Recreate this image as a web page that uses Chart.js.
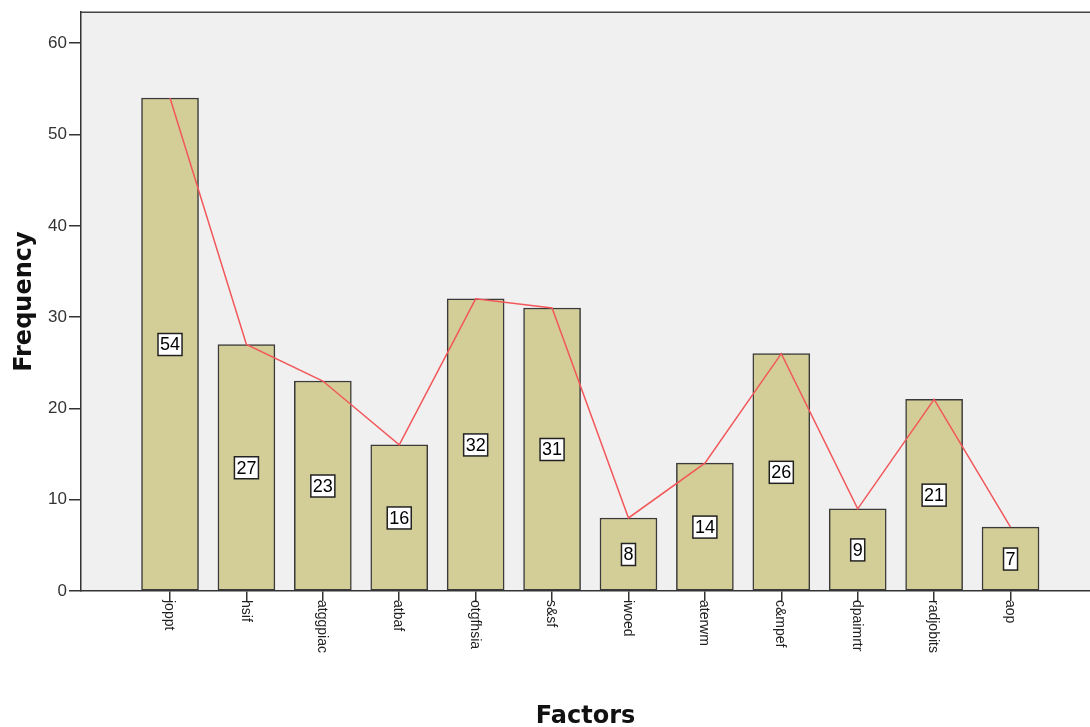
<!DOCTYPE html>
<html>
<head>
<meta charset="utf-8">
<style>
  html, body { margin: 0; padding: 0; background: #fff; }
  #wrap { width: 1090px; height: 727px; }
</style>
</head>
<body>
<div id="wrap"><canvas id="chart" width="1090" height="727"></canvas></div>
<script src="https://cdn.jsdelivr.net/npm/chart.js"></script>
<script>
const factors = ["joppt", "hsif", "atggpiac", "atbaf", "otgfhsia", "s&sf",
  "iwoed", "aterwm", "c&mpef", "dpaimrtr", "radjobits", "aop"];
const counts = [54, 27, 23, 16, 32, 31, 8, 14, 26, 9, 21, 7];
const yTicks = [0, 10, 20, 30, 40, 50, 60];

const FONT = "'Liberation Sans', Arial, sans-serif";
const TITLE_FONT = "'DejaVu Sans', sans-serif";

// grey plot panel + top border
const panelPlugin = {
  id: "panel",
  beforeDraw(chart) {
    const { ctx, chartArea: a } = chart;
    ctx.save();
    ctx.fillStyle = "#f0f0f0";
    ctx.fillRect(a.left, a.top, a.right - a.left, a.bottom - a.top);
    ctx.strokeStyle = "#444";
    ctx.lineWidth = 1.5;
    ctx.beginPath();
    ctx.moveTo(a.left, a.top);
    ctx.lineTo(a.right, a.top);
    ctx.stroke();
    ctx.restore();
  }
};

// value boxes in the middle of each bar
const valueLabels = {
  id: "valueLabels",
  afterDatasetsDraw(chart) {
    const { ctx, scales } = chart;
    ctx.save();
    ctx.font = "18px " + FONT;
    ctx.textAlign = "center";
    ctx.textBaseline = "middle";
    counts.forEach((v, i) => {
      const x = scales.x.getPixelForValue(i);
      const y = scales.y.getPixelForValue(v / 2);
      const txt = String(v);
      const w = ctx.measureText(txt).width + 4;
      const h = 22;
      ctx.fillStyle = "#fff";
      ctx.fillRect(x - w / 2, y - h / 2, w, h);
      ctx.strokeStyle = "#222";
      ctx.lineWidth = 1.5;
      ctx.strokeRect(x - w / 2, y - h / 2, w, h);
      ctx.fillStyle = "#000";
      ctx.fillText(txt, x, y + 1);
    });
    ctx.restore();
  }
};

// category names, rotated to read top-to-bottom
const xLabels = {
  id: "xLabels",
  afterDraw(chart) {
    const { ctx, scales } = chart;
    ctx.save();
    ctx.font = "14px " + FONT;
    ctx.fillStyle = "#222";
    ctx.textAlign = "left";
    ctx.textBaseline = "middle";
    factors.forEach((name, i) => {
      const x = scales.x.getPixelForValue(i);
      ctx.save();
      ctx.translate(x - 1, scales.x.top + 9);
      ctx.rotate(Math.PI / 2);
      ctx.fillText(name, 0, 0);
      ctx.restore();
    });
    ctx.restore();
  }
};

new Chart(document.getElementById("chart"), {
  data: {
    datasets: [
      {
        type: "bar",
        data: counts.map((v, i) => ({ x: i, y: v })),
        backgroundColor: "#d3ce97",
        borderColor: "#3a3a3a",
        borderWidth: 1.5,
        borderSkipped: false,
        barThickness: 57,
        order: 1
      },
      {
        type: "line",
        data: counts.map((v, i) => ({ x: i, y: v })),
        borderColor: "#f2575a",
        borderWidth: 1.5,
        pointRadius: 0,
        tension: 0,
        order: 0
      }
    ]
  },
  options: {
    responsive: false,
    animation: false,
    devicePixelRatio: 1,
    layout: { padding: { top: 10, right: 0, left: 0, bottom: 0 } },
    plugins: {
      legend: { display: false },
      tooltip: { enabled: false }
    },
    scales: {
      x: {
        type: "linear",
        offset: false,
        min: -1.165,
        max: 12.04,
        afterBuildTicks: axis => {
          axis.ticks = factors.map((f, i) => ({ value: i }));
        },
        afterFit: axis => { axis.height = 136; },
        ticks: { display: false },
        grid: {
          offset: false,
          drawOnChartArea: false,
          drawTicks: true,
          tickLength: 10,
          color: "#333",
          lineWidth: 1.5
        },
        border: { display: true, color: "#333", width: 1.5 },
        title: {
          display: true,
          text: "Factors",
          color: "#111",
          font: { family: TITLE_FONT, size: 24, weight: "bold" },
          padding: { top: 0, bottom: -4 }
        }
      },
      y: {
        min: 0,
        max: 63.4,
        afterBuildTicks: axis => {
          axis.ticks = yTicks.map(v => ({ value: v }));
        },
        afterFit: axis => { axis.width = 81; },
        ticks: {
          color: "#333",
          padding: 2,
          font: { family: FONT, size: 17 }
        },
        grid: {
          drawOnChartArea: false,
          drawTicks: true,
          tickLength: 12,
          color: "#333",
          lineWidth: 1.5
        },
        border: { display: true, color: "#333", width: 1.5 },
        title: {
          display: true,
          text: "Frequency",
          color: "#111",
          font: { family: TITLE_FONT, size: 24, weight: "bold" },
          padding: { top: 10, bottom: 0 }
        }
      }
    }
  },
  plugins: [panelPlugin, valueLabels, xLabels]
});
</script>
</body>
</html>
